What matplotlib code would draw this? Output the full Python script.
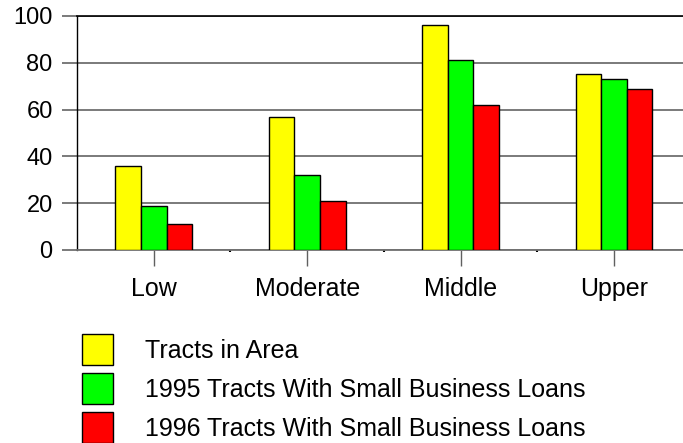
import matplotlib
matplotlib.use("Agg")
import matplotlib.pyplot as plt
import numpy as np

plt.rcParams['font.family'] = ['Liberation Sans', 'DejaVu Sans']

categories = ["Low", "Moderate", "Middle", "Upper"]
series_names = ["Tracts in Area",
                "1995 Tracts With Small Business Loans",
                "1996 Tracts With Small Business Loans"]
tracts_area = [36, 57, 96, 75]
tracts_1995 = [19, 32, 81, 73]
tracts_1996 = [11, 21, 62, 69]
colors = ["#FFFF00", "#00FF00", "#FF0000"]

fig = plt.figure(figsize=(6.83, 4.43), dpi=100)
ax = fig.add_axes([77 / 683, 193 / 443, 613.75 / 683, 234 / 443])

x = np.arange(len(categories))
w = 0.167
handles = []
for i, (vals, col) in enumerate(zip([tracts_area, tracts_1995, tracts_1996], colors)):
    b = ax.bar(x + (i - 1) * w, vals, w, color=col, edgecolor="black",
               linewidth=1.0, zorder=3, label=series_names[i])
    handles.append(b)

ax.set_xlim(-0.5, 3.5)
ax.set_ylim(0, 100)
ax.set_yticks(range(0, 101, 20))
ax.set_xticks(x)
ax.set_xticklabels(categories)
ax.set_xticks([0.5, 1.5, 2.5], minor=True)

ax.yaxis.grid(True, color="#707070", linewidth=1.3, zorder=0)
ax.set_axisbelow(True)

ax.spines["right"].set_visible(False)
ax.spines["top"].set_color("black")
ax.spines["top"].set_linewidth(1.2)
ax.spines["left"].set_color("black")
ax.spines["left"].set_linewidth(1.0)
ax.spines["bottom"].set_color("#707070")
ax.spines["bottom"].set_linewidth(1.3)

ax.tick_params(axis="y", length=11, width=1.3, color="#707070",
               labelsize=17, pad=6.5)
ax.yaxis.get_major_ticks()[-1].tick1line.set_color("black")
ax.tick_params(axis="x", which="major", length=11.5, width=1.0,
               color="#606060", labelsize=18, pad=8)
ax.tick_params(axis="x", which="minor", length=1.5, width=1.5, color="black")

fig.legend(handles=handles, labels=series_names, loc="upper left",
           bbox_to_anchor=(82 / 683, 1 - 334.5 / 443), frameon=False,
           fontsize=18, handlelength=1.24, handleheight=1.53,
           handletextpad=1.28, labelspacing=0.32, borderpad=0,
           borderaxespad=0)

fig.savefig("out.png", dpi=100)
